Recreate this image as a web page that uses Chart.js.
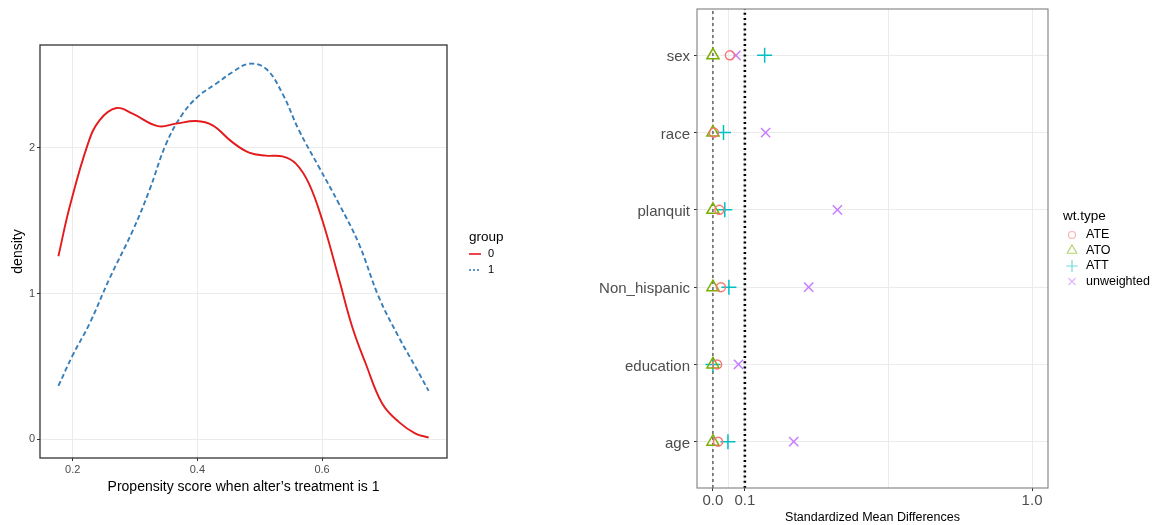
<!DOCTYPE html>
<html>
<head>
<meta charset="utf-8">
<script src="https://cdn.jsdelivr.net/npm/chart.js@4.4.0/dist/chart.umd.min.js"></script>
<style>
  html, body { margin: 0; padding: 0; background: #fff; }
  #left, #right { position: absolute; top: 0; }
  #left { left: 0; }
  #right { left: 580px; }
</style>
</head>
<body>
<canvas id="left" width="580" height="525"></canvas>
<canvas id="right" width="581" height="525"></canvas>
<script>
// Density of the propensity score
const group0X = [0.177, 0.195, 0.2245, 0.243, 0.27, 0.296, 0.3365, 0.366, 0.398, 0.4245, 0.456, 0.483,
                 0.51, 0.5365, 0.558, 0.579, 0.6005, 0.627, 0.6485, 0.67, 0.6965, 0.723, 0.75, 0.771];
const group0Y = [1.256, 1.594, 2.03, 2.19, 2.274, 2.235, 2.15, 2.167, 2.185, 2.155, 2.04, 1.968,
                 1.947, 1.942, 1.892, 1.755, 1.503, 1.103, 0.771, 0.52, 0.245, 0.119, 0.039, 0.012];
const group1X = [0.177, 0.2, 0.227, 0.259, 0.2965, 0.323, 0.35, 0.3765, 0.403, 0.43, 0.4565,
                 0.483, 0.51, 0.5365, 0.563, 0.595, 0.627, 0.659, 0.691, 0.723, 0.75, 0.771];
const group1Y = [0.366, 0.577, 0.794, 1.103, 1.434, 1.709, 2.03, 2.235, 2.361, 2.441, 2.521,
                 2.578, 2.544, 2.373, 2.121, 1.869, 1.618, 1.343, 0.977, 0.702, 0.496, 0.332];
const densityXTicks = [0.2, 0.4, 0.6];
const densityYTicks = [0, 1, 2];
const groupLabels = ['0', '1'];

// Balance plot (standardized mean differences)
const covariates = ['age', 'education', 'Non_hispanic', 'planquit', 'race', 'sex'];
const smdATE = [0.016, 0.013, 0.025, 0.02, 0.003, 0.053];
const smdATO = [0, 0, 0, 0, 0, 0];
const smdATT = [0.047, 0.0, 0.05, 0.037, 0.033, 0.162];
const smdUnweighted = [0.253, 0.08, 0.30, 0.39, 0.165, 0.072];
const wtTypes = ['ATE', 'ATO', 'ATT', 'unweighted'];
const smdTicks = [0, 0.1, 1.0];
const smdMinorGrid = [0.05, 0.55];
const smdThreshold = 0.1;

const FONT = "'Liberation Sans', Arial, sans-serif";
Chart.defaults.font.family = FONT;
Chart.defaults.color = '#4d4d4d';

const toPoints = (xs, ys) => xs.map((x, i) => ({ x: x, y: ys[i] }));

// keep the panel exactly where ggplot puts it
const noEdgePadding = s => { s.paddingTop = 0; s.paddingBottom = 0; s.paddingLeft = 0; s.paddingRight = 0; };

// box around the plotting panel, like theme_bw
function panelBorder(color, width) {
    return {
        id: 'panelBorder',
        afterDraw(chart) {
            const a = chart.chartArea;
            const ctx = chart.ctx;
            ctx.save();
            ctx.strokeStyle = color;
            ctx.lineWidth = width;
            ctx.strokeRect(a.left, a.top, a.right - a.left, a.bottom - a.top);
            ctx.restore();
        }
    };
}

// ggplot style legend at the right of the panel
function sideLegend(cfg) {
    return {
        id: 'sideLegend',
        afterDraw(chart) {
            const ctx = chart.ctx;
            ctx.save();
            ctx.textBaseline = 'middle';
            ctx.textAlign = 'left';
            ctx.fillStyle = '#000';
            ctx.font = cfg.titleSize + 'px ' + FONT;
            ctx.fillText(cfg.title, cfg.x, cfg.y);
            ctx.font = cfg.textSize + 'px ' + FONT;
            cfg.items.forEach((it, i) => {
                const y = cfg.y + cfg.first + i * cfg.step;
                cfg.key(ctx, it, cfg.x, y);
                ctx.fillStyle = '#000';
                ctx.fillText(it.label, cfg.x + cfg.textOffset, y);
            });
            ctx.restore();
        }
    };
}

function createDensityChart() {
    const groupColors = ['#E41A1C', '#377EB8'];

    new Chart(document.getElementById('left'), {
        type: 'line',
        data: {
            datasets: [
                {
                    label: groupLabels[0],
                    data: toPoints(group0X, group0Y),
                    borderColor: groupColors[0],
                    borderWidth: 1.9,
                    pointRadius: 0,
                    tension: 0.4
                },
                {
                    label: groupLabels[1],
                    data: toPoints(group1X, group1Y),
                    borderColor: groupColors[1],
                    borderWidth: 1.9,
                    borderDash: [5, 3],
                    pointRadius: 0,
                    tension: 0.4
                }
            ]
        },
        options: {
            responsive: false,
            animation: false,
            layout: { padding: { left: 0, top: 45, right: 133, bottom: 0 } },
            plugins: { legend: { display: false }, tooltip: { enabled: false } },
            scales: {
                x: {
                    type: 'linear',
                    min: 0.1475,
                    max: 0.8005,
                    afterBuildTicks: s => { s.ticks = densityXTicks.map(v => ({ value: v })); },
                    afterFit: s => { s.height = 67; noEdgePadding(s); },
                    ticks: {
                        callback: v => v.toFixed(1),
                        font: { size: 11 },
                        color: '#4d4d4d',
                        padding: 2,
                        maxRotation: 0,
                        autoSkip: false
                    },
                    grid: { color: '#ebebeb', tickColor: '#333', tickLength: 3 },
                    border: { display: false },
                    title: {
                        display: true,
                        text: 'Propensity score when alter’s treatment is 1',
                        color: '#000',
                        font: { size: 14 },
                        padding: { top: 0, bottom: 29.5 }
                    }
                },
                y: {
                    type: 'linear',
                    min: -0.129,
                    max: 2.707,
                    afterBuildTicks: s => { s.ticks = densityYTicks.map(v => ({ value: v })); },
                    afterFit: s => { s.width = 40; noEdgePadding(s); },
                    ticks: {
                        callback: v => String(v),
                        font: { size: 11 },
                        color: '#4d4d4d',
                        padding: 2
                    },
                    grid: { color: '#ebebeb', tickColor: '#333', tickLength: 3 },
                    border: { display: false },
                    title: {
                        display: true,
                        text: 'density',
                        color: '#000',
                        font: { size: 14 },
                        padding: { top: 10, bottom: 0 }
                    }
                }
            }
        },
        plugins: [
            panelBorder('#333', 1.3),
            sideLegend({
                x: 469, y: 237, first: 17, step: 16, textOffset: 19,
                title: 'group', titleSize: 13.5, textSize: 11,
                items: groupLabels.map((l, i) => ({ label: l, color: groupColors[i], dash: i ? [2, 2] : [] })),
                key: (ctx, it, x, y) => {
                    ctx.strokeStyle = it.color;
                    ctx.lineWidth = 1.6;
                    ctx.setLineDash(it.dash);
                    ctx.beginPath();
                    ctx.moveTo(x, y);
                    ctx.lineTo(x + 12, y);
                    ctx.stroke();
                    ctx.setLineDash([]);
                }
            })
        ]
    });
}

function createBalanceChart() {
    const wtColors = ['#F8766D', '#7CAE00', '#00BFC4', '#C77CFF'];
    const wtFaded = ['rgba(248,118,109,0.55)', 'rgba(124,174,0,0.55)', 'rgba(0,191,196,0.55)', 'rgba(199,124,255,0.55)'];
    const wtStyles = ['circle', 'triangle', 'cross', 'crossRot'];
    const wtRadius = [4.5, 7, 7.5, 6.5];
    const wtValues = [smdATE, smdATO, smdATT, smdUnweighted];
    const yMin = 0.4, yMax = 6.6;

    const pointSets = wtTypes.map((name, i) => ({
        label: name,
        data: wtValues[i].map((v, k) => ({ x: v, y: k + 1 })),
        showLine: false,
        pointStyle: wtStyles[i],
        pointRadius: wtRadius[i],
        pointBorderColor: wtColors[i],
        pointBackgroundColor: 'rgba(0,0,0,0)',
        pointBorderWidth: 1.5,
        order: 0
    }));

    const refSets = [
        {
            label: 'zero',
            data: [{ x: 0, y: yMin }, { x: 0, y: yMax }],
            borderColor: '#000',
            borderWidth: 0.9,
            borderDash: [3, 3],
            pointRadius: 0,
            order: 5
        },
        {
            label: 'threshold',
            data: [{ x: smdThreshold, y: yMin }, { x: smdThreshold, y: yMax }],
            borderColor: '#000',
            borderWidth: 2.6,
            borderDash: [2, 3.2],
            pointRadius: 0,
            order: 5
        }
    ];

    const xGrid = smdTicks.concat(smdMinorGrid).sort((a, b) => a - b);

    new Chart(document.getElementById('right'), {
        type: 'line',
        data: { datasets: refSets.concat(pointSets) },
        options: {
            responsive: false,
            animation: false,
            layout: { padding: { left: 0, top: 9, right: 113, bottom: 0 } },
            plugins: { legend: { display: false }, tooltip: { enabled: false } },
            scales: {
                x: {
                    type: 'linear',
                    min: -0.05,
                    max: 1.05,
                    afterBuildTicks: s => { s.ticks = xGrid.map(v => ({ value: v })); },
                    afterFit: s => { s.height = 37; noEdgePadding(s); },
                    ticks: {
                        callback: v => (smdTicks.includes(v) ? v.toFixed(1) : ''),
                        font: { size: 15 },
                        color: '#4d4d4d',
                        padding: 1,
                        maxRotation: 0,
                        autoSkip: false
                    },
                    grid: {
                        color: '#ebebeb',
                        tickColor: c => (c.tick && smdTicks.includes(c.tick.value) ? '#333' : 'rgba(0,0,0,0)'),
                        tickLength: 3
                    },
                    border: { display: false },
                    title: {
                        display: true,
                        text: 'Standardized Mean Differences',
                        color: '#000',
                        font: { size: 12.5 },
                        padding: { top: 0, bottom: 0 }
                    }
                },
                y: {
                    type: 'linear',
                    min: yMin,
                    max: yMax,
                    afterBuildTicks: s => { s.ticks = covariates.map((c, k) => ({ value: k + 1 })); },
                    afterFit: s => { s.width = 117; noEdgePadding(s); },
                    ticks: {
                        callback: v => covariates[v - 1],
                        font: { size: 15 },
                        color: '#4d4d4d',
                        padding: 4,
                        labelOffset: 2
                    },
                    grid: { color: '#ebebeb', tickColor: '#333', tickLength: 3 },
                    border: { display: false }
                }
            }
        },
        plugins: [
            panelBorder('#7f7f7f', 1.1),
            sideLegend({
                x: 483, y: 216, first: 19, step: 15.5, textOffset: 23,
                title: 'wt.type', titleSize: 13.5, textSize: 12.5,
                items: wtTypes.map((l, i) => ({ label: l, color: wtFaded[i], style: wtStyles[i], r: [3.5, 5.5, 6, 5][i] })),
                key: (ctx, it, x, y) => {
                    ctx.strokeStyle = it.color;
                    ctx.fillStyle = 'rgba(0,0,0,0)';
                    ctx.lineWidth = 1.2;
                    Chart.helpers.drawPoint(ctx, { pointStyle: it.style, radius: it.r, borderWidth: 1.2, rotation: 0 }, x + 9, y);
                }
            })
        ]
    });
}

createDensityChart();
createBalanceChart();
</script>
</body>
</html>
